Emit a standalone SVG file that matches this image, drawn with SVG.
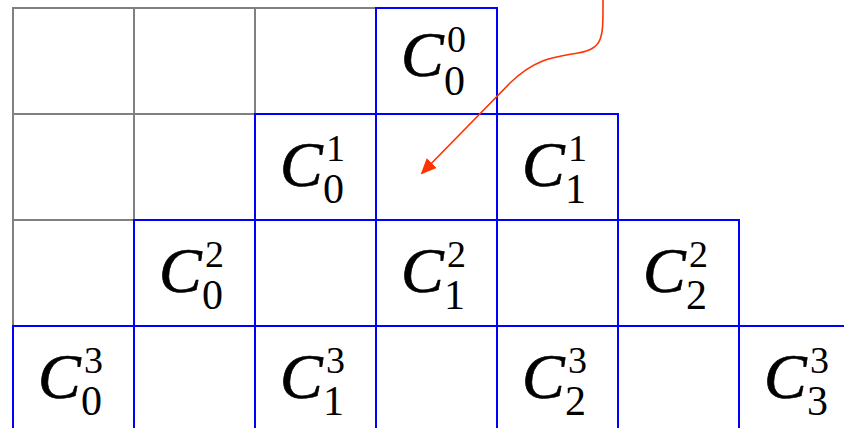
<svg xmlns="http://www.w3.org/2000/svg" width="844" height="428" viewBox="0 0 844 428">
<style>
.g{fill:none;stroke:#808080;stroke-width:2}
.b{fill:none;stroke:#0000FF;stroke-width:2}
.c{font-family:"Liberation Serif","Times New Roman",serif;font-style:italic;font-size:64px;fill:#000;stroke:#000;stroke-width:0.7}
.sp{font-family:"Liberation Serif","Times New Roman",serif;font-size:38px;fill:#000}
.sb{font-family:"Liberation Serif","Times New Roman",serif;font-size:42px;fill:#000}
.arr{fill:none;stroke:#FF3300;stroke-width:1.6}
</style>
<defs>
<marker id="ah" markerWidth="16" markerHeight="14" refX="14" refY="7" orient="auto" markerUnits="userSpaceOnUse">
<path d="M0,0 L16,7 L0,14 Z" fill="#FF3300"/>
</marker>
</defs>
<rect width="844" height="428" fill="#fff"/>
<g id="grey-cells">
<rect class="g" x="13" y="8" width="121" height="106"/>
<rect class="g" x="134" y="8" width="121" height="106"/>
<rect class="g" x="255" y="8" width="121" height="106"/>
<rect class="g" x="13" y="114" width="121" height="106"/>
<rect class="g" x="134" y="114" width="121" height="106"/>
<rect class="g" x="13" y="220" width="121" height="106"/>
</g>
<g id="c00"><rect class="b" x="376" y="8" width="121" height="106"/><text class="c" x="401" y="76">C</text><text class="sp" x="447" y="52">0</text><text class="sb" x="444" y="95">0</text></g>
<g id="c01"><rect class="b" x="255" y="114" width="121" height="106"/><text class="c" x="280" y="186">C</text><text class="sp" x="326" y="161">1</text><text class="sb" x="323" y="203">0</text></g>
<g id="r1c3"><rect class="b" x="376" y="114" width="121" height="106"/></g>
<g id="c11"><rect class="b" x="497" y="114" width="121" height="106"/><text class="c" x="522" y="186">C</text><text class="sp" x="568" y="161">1</text><text class="sb" x="565" y="203">1</text></g>
<g id="c02"><rect class="b" x="134" y="220" width="121" height="106"/><text class="c" x="159" y="292">C</text><text class="sp" x="205" y="267">2</text><text class="sb" x="202" y="309">0</text></g>
<g id="r2c2"><rect class="b" x="255" y="220" width="121" height="106"/></g>
<g id="c12"><rect class="b" x="376" y="220" width="121" height="106"/><text class="c" x="401" y="292">C</text><text class="sp" x="447" y="267">2</text><text class="sb" x="444" y="309">1</text></g>
<g id="r2c4"><rect class="b" x="497" y="220" width="121" height="106"/></g>
<g id="c22"><rect class="b" x="618" y="220" width="121" height="106"/><text class="c" x="643" y="292">C</text><text class="sp" x="689" y="267">2</text><text class="sb" x="686" y="309">2</text></g>
<g id="c03"><rect class="b" x="13" y="326" width="121" height="106"/><text class="c" x="38" y="398">C</text><text class="sp" x="84" y="373">3</text><text class="sb" x="81" y="415">0</text></g>
<g id="r3c1"><rect class="b" x="134" y="326" width="121" height="106"/></g>
<g id="c13"><rect class="b" x="255" y="326" width="121" height="106"/><text class="c" x="280" y="398">C</text><text class="sp" x="326" y="373">3</text><text class="sb" x="323" y="415">1</text></g>
<g id="r3c3"><rect class="b" x="376" y="326" width="121" height="106"/></g>
<g id="c23"><rect class="b" x="497" y="326" width="121" height="106"/><text class="c" x="522" y="398">C</text><text class="sp" x="568" y="373">3</text><text class="sb" x="565" y="415">2</text></g>
<g id="r3c5"><rect class="b" x="618" y="326" width="121" height="106"/></g>
<g id="c33"><rect class="b" x="739" y="326" width="121" height="106"/><text class="c" x="764" y="398">C</text><text class="sp" x="810" y="373">3</text><text class="sb" x="807" y="415">3</text></g>
<g id="connectors">
<path class="arr" d="M603,0 C603,38 604,48 578,53 C555,57 536,58 510,83 L422,173" marker-end="url(#ah)"/>
</g>
</svg>
